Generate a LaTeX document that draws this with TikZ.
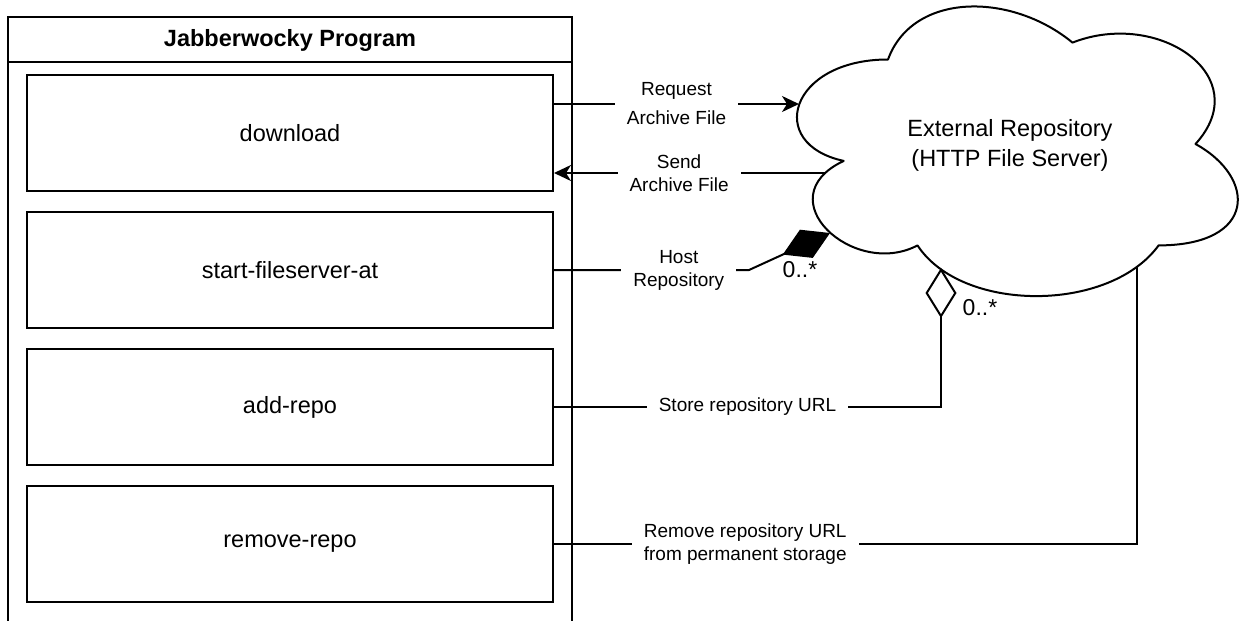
\documentclass[tikz,border=0pt]{standalone}
\usepackage{fontspec}
\setmainfont{Liberation Sans}
\usetikzlibrary{arrows.meta}
\begin{document}
\begin{tikzpicture}
[x=0.5pt,y=-0.5pt,line width=1pt,
  boxdecorate/.style={shape=rectangle,draw,minimum width=263pt,minimum height=58pt,
    font=\fontsize{11.75}{15}\selectfont},
  arrowdecorate/.style={-{Stealth[length=8.5pt,width=8pt,inset=2.5pt]}},
  filleddecorate/.style={-{Diamond[length=26pt,width=15.5pt]},line join=miter},
  opendecorate/.style={-{Diamond[open,length=25pt,width=15.5pt]},line join=miter},
  labeldecorate/.style={fill=white,align=center,inner xsep=6pt,inner ysep=1pt,
    font=\fontsize{9.5}{11.5}\selectfont},
  multdecorate/.style={inner sep=0pt,font=\fontsize{11.5}{14}\selectfont}]
\useasboundingbox (0,0) rectangle (1244,621);
%% program container
\draw (8,621) -- (8,17) -- (572,17) -- (572,621);
\draw (8,62) -- (572,62);
\node (title) at (290,40) [font=\bfseries\fontsize{11.75}{15}\selectfont] {Jabberwocky Program};
%% operations
\foreach \nodename/\y/\text in {
  download/133/download, start/270/start-fileserver-at,
  add/407/add-repo, remove/544/remove-repo}
{
  \node (\nodename) at (290,\y) [boxdecorate] {\text};
}
%% cloud
\begin{scope}[shift={(765,-25)},x=246pt,y=-169pt]
\draw[line join=round] (0.25,0.25)
  .. controls (0.05,0.25) and (0,0.5) .. (0.16,0.55)
  .. controls (0,0.66) and (0.18,0.9) .. (0.31,0.8)
  .. controls (0.4,1) and (0.7,1) .. (0.8,0.8)
  .. controls (1,0.8) and (1,0.6) .. (0.875,0.5)
  .. controls (1,0.3) and (0.8,0.1) .. (0.625,0.2)
  .. controls (0.5,0.05) and (0.3,0.05) .. (0.25,0.25) -- cycle;
\end{scope}
\node (repo) at (1010,145) [align=center,font=\fontsize{11.75}{15}\selectfont]
  {External Repository\\(HTTP File Server)};
%% ends on the cloud
\coordinate (reqin) at (799,104);
\coordinate (sendout) at (826,173);
\coordinate (hostbend) at (749,270);
\coordinate (hostin) at (830,233);
\coordinate (storein) at (941,268);
\coordinate (removein) at (1137,267);
%% connectors
\draw[arrowdecorate] (download.east |- reqin) -- node[labeldecorate] {Request\\[3pt]Archive File} (reqin);
\draw[arrowdecorate] (sendout) -- node[labeldecorate,pos=0.54] {Send\\Archive File} (download.east |- sendout);
\draw[filleddecorate] (start.east) -- node[labeldecorate,pos=0.64] {Host\\Repository} (hostbend) -- (hostin);
\node (hostmult) at (800,270) [multdecorate] {0..*};
\draw[opendecorate] (add.east) -| node[labeldecorate,pos=0.25] {Store repository URL} (storein);
\node (storemult) at (980,308) [multdecorate] {0..*};
\draw (remove.east) -| node[labeldecorate,pos=0.164] {Remove repository URL\\from permanent storage} (removein);
\end{tikzpicture}
\end{document}
